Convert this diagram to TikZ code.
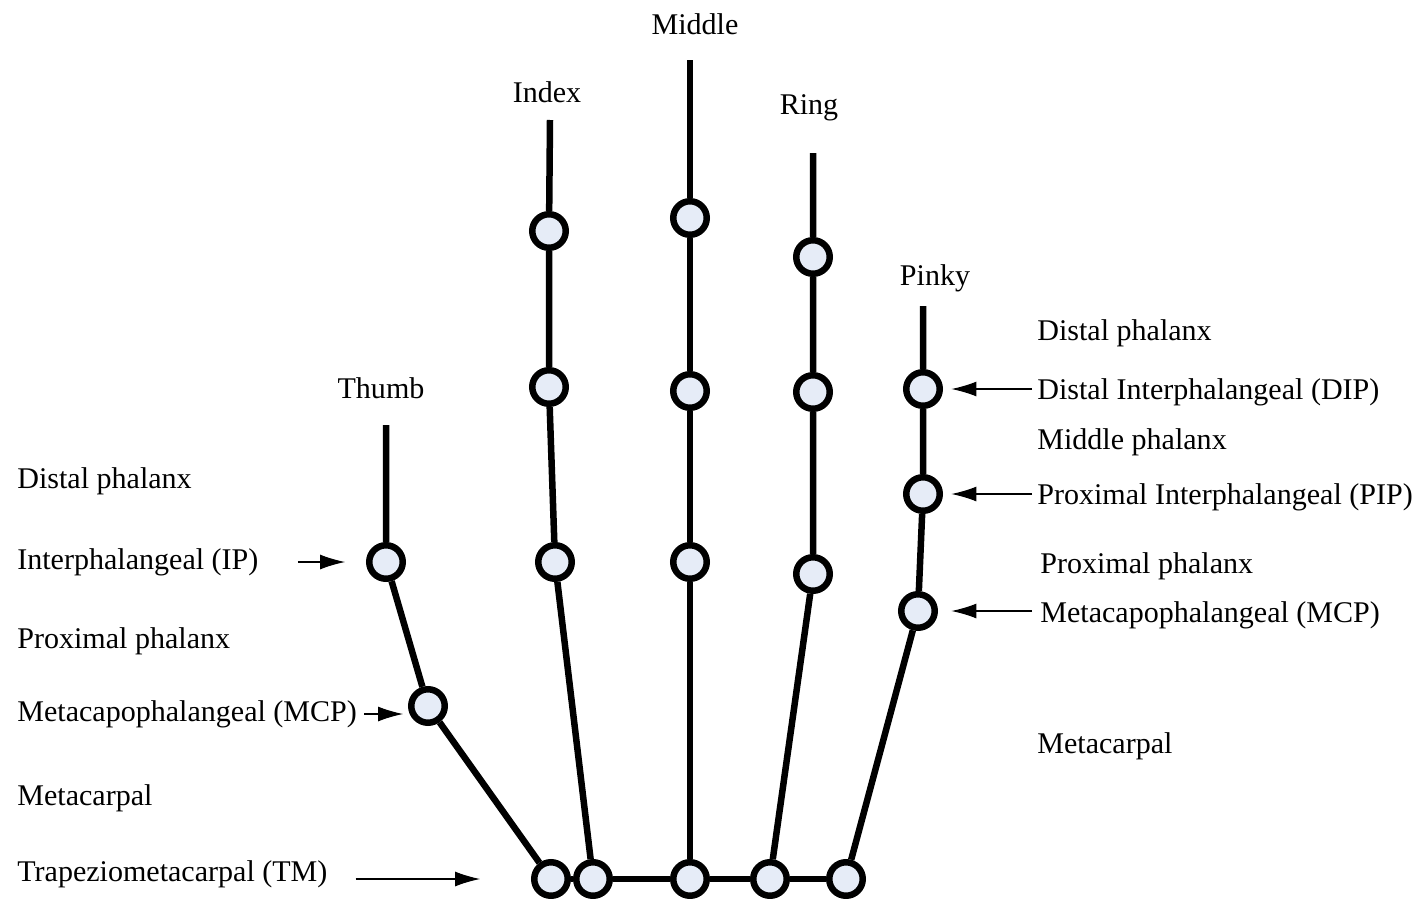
\documentclass[tikz,border=0pt]{standalone}
\usepackage{fontspec}
\setmainfont{Liberation Serif}
\usetikzlibrary{arrows.meta}
\definecolor{jointblue}{RGB}{230,236,247}

\begin{document}
\begin{tikzpicture}[x=0.02cm,y=-0.02cm,
  bone/.style={line width=0.13cm},
  joint/.style={circle,draw,line width=0.13cm,fill=jointblue,minimum size=0.67cm,inner sep=0pt},
  lbl/.style={anchor=west,inner sep=0pt,font=\fontsize{17.1}{21}\selectfont},
  fname/.style={inner sep=0pt,font=\fontsize{17.1}{21}\selectfont},
  pointer/.style={-{Latex[length=0.5cm,width=0.3cm]},line width=0.6pt}]

\useasboundingbox (0,0) rectangle (1421,899);

% Thumb
\path
(386,425)  coordinate (th3)
(386,562)  node[joint] (th2) {}
(428,706)  node[joint] (th1) {}
(551,879)  node[joint] (th0) {}
(381,388)  node[fname] (nth) {Thumb}
;
\draw[bone] (th3)--(th2)--(th1)--(th0);

% Index
\path
(550,120)  coordinate (ix4)
(549,231)  node[joint] (ix3) {}
(549,387)  node[joint] (ix2) {}
(555,562)  node[joint] (ix1) {}
(593,879)  node[joint] (ix0) {}
(547,92)   node[fname] (nix) {Index}
;
\draw[bone] (ix4)--(ix3)--(ix2)--(ix1)--(ix0);

% Middle
\path
(690,60)   coordinate (md4)
(690,218)  node[joint] (md3) {}
(690,391)  node[joint] (md2) {}
(690,562)  node[joint] (md1) {}
(690,879)  node[joint] (md0) {}
(695,24)   node[fname] (nmd) {Middle}
;
\draw[bone] (md4)--(md3)--(md2)--(md1)--(md0);

% Ring
\path
(813,153)  coordinate (rg4)
(813,257)  node[joint] (rg3) {}
(813,392)  node[joint] (rg2) {}
(813,574)  node[joint] (rg1) {}
(770,879)  node[joint] (rg0) {}
(809,108)  node[fname] (nrg) {Ring}
;
\draw[bone] (rg4)--(rg3)--(rg2)--(rg1)--(rg0);

% Pinky
\path
(923,306)  coordinate (pk4)
(923,389)  node[joint] (pk3) {}
(923,494)  node[joint] (pk2) {}
(918,611)  node[joint] (pk1) {}
(846,879)  node[joint] (pk0) {}
(935,278)  node[fname] (npk) {Pinky}
;
\draw[bone] (pk4)--(pk3)--(pk2)--(pk1)--(pk0);

% palm
\draw[bone] (th0)--(ix0)--(md0)--(rg0)--(pk0);

% left labels
\path
(17,481)  node[lbl] (ldist) {Distal phalanx}
(17,562)  node[lbl] (lip)   {Interphalangeal (IP)}
(17,641)  node[lbl] (lprox) {Proximal phalanx}
(17,714)  node[lbl] (lmcp)  {Metacapophalangeal (MCP)}
(17,798)  node[lbl] (lmeta) {Metacarpal}
(17,874)  node[lbl] (ltm)   {Trapeziometacarpal (TM)}
;
\draw[pointer, shorten <=0.78cm, shorten >=0.42cm] (lip.east |- th2) -- (th2.west);
\draw[pointer, shorten <=0.14cm, shorten >=0.1cm] (lmcp.east) -- (lmcp.east -| th1.west);
\draw[pointer, shorten <=0.56cm, shorten >=1.02cm] (ltm.east |- th0) -- (th0.west);

% right labels
\path
(1037,333)  node[lbl] (rdist) {Distal phalanx}
(1037,392)  node[lbl] (rdip)  {Distal Interphalangeal (DIP)}
(1037,442)  node[lbl] (rmid)  {Middle phalanx}
(1037,497)  node[lbl] (rpip)  {Proximal Interphalangeal (PIP)}
(1040,566)  node[lbl] (rprox) {Proximal phalanx}
(1040,615)  node[lbl] (rmcp)  {Metacapophalangeal (MCP)}
(1037,746)  node[lbl] (rmeta) {Metacarpal}
;
\draw[pointer, shorten <=0.1cm, shorten >=0.17cm] (rdip.west |- pk3) -- (pk3.east);
\draw[pointer, shorten <=0.1cm, shorten >=0.17cm] (rpip.west |- pk2) -- (pk2.east);
\draw[pointer, shorten <=0.16cm, shorten >=0.27cm] (rmcp.west |- pk1) -- (pk1.east);

\end{tikzpicture}
\end{document}
